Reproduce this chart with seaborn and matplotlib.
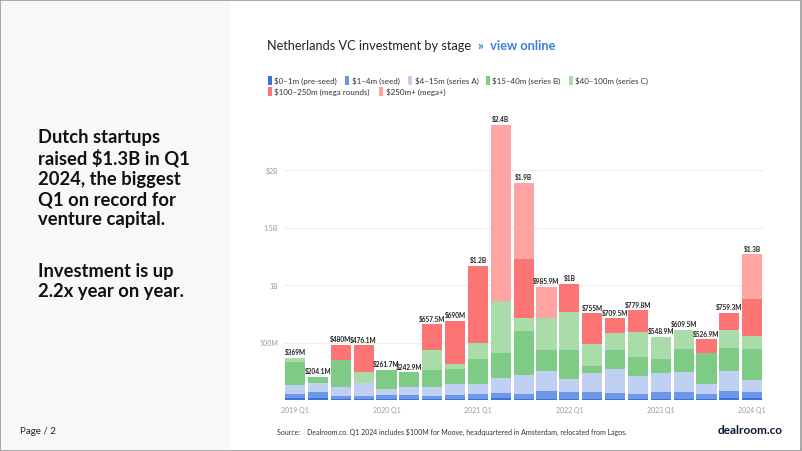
import matplotlib
matplotlib.use('Agg')
import matplotlib.pyplot as plt
from matplotlib.patches import Rectangle
import pandas as pd
import seaborn as sns

quarters = ['2019 Q1', '2019 Q2', '2019 Q3', '2019 Q4', '2020 Q1', '2020 Q2', '2020 Q3',
            '2020 Q4', '2021 Q1', '2021 Q2', '2021 Q3', '2021 Q4', '2022 Q1', '2022 Q2',
            '2022 Q3', '2022 Q4', '2023 Q1', '2023 Q2', '2023 Q3', '2023 Q4', '2024 Q1']

# $M per stage
pre_seed = [15, 14, 12, 10, 12, 12, 8, 10, 10, 15, 12, 10, 12, 10, 10, 10, 12, 12, 10, 15, 15]
seed = [40, 58, 26, 26, 35, 35, 26, 35, 44, 46, 40, 65, 60, 57, 48, 42, 60, 60, 42, 63, 57]
series_a = [72, 76, 72, 110, 49, 67, 78, 93, 81, 128, 168, 174, 110, 168, 212, 154, 165, 168, 87, 174, 101]
series_b = [203, 56, 235, 0, 165, 129, 145, 128, 223, 223, 383, 183, 252, 61, 165, 171, 119, 200, 272, 196, 270]
series_c = [38, 0, 0, 101, 0, 0, 177, 49, 136, 452, 107, 280, 333, 194, 145, 218, 193, 170, 0, 165, 116]
mega = [0, 0, 135, 229, 0, 0, 223, 375, 673, 0, 516, 0, 246, 265, 130, 185, 0, 0, 116, 146, 316]
mega_plus = [0, 0, 0, 0, 0, 0, 0, 0, 0, 1530, 661, 274, 0, 0, 0, 0, 0, 0, 0, 0, 391]

total_labels = ['$369M', '$204.1M', '$480M', '$476.1M', '$261.7M', '$242.9M', '$657.5M',
                '$690M', '$1.2B', '$2.4B', '$1.9B', '$985.9M', '$1B', '$755M', '$709.5M',
                '$779.8M', '$548.9M', '$609.5M', '$526.9M', '$759.3M', '$1.3B']

stage_names = ['$0–1m (pre-seed)', '$1–4m (seed)', '$4–15m (series A)', '$15–40m (series B)',
               '$40–100m (series C)', '$100–250m (mega rounds)', '$250m+ (mega+)']
stage_colors = ['#3d72dc', '#6d98ea', '#bfd0f3', '#7ecb86', '#a9dca9', '#fd7474', '#ffa3a3']

y_ticks = [500, 1000, 1500, 2000]
y_tick_labels = ['500M', '1B', '1.5B', '$2B']
x_tick_labels = ['2019 Q1', '2020 Q1', '2021 Q1', '2022 Q1', '2023 Q1', '2024 Q1']

sns.set_style('white')
plt.rcParams['font.family'] = ['Lato', 'DejaVu Sans']

df = pd.DataFrame({'quarter': quarters, 'pre_seed': pre_seed, 'seed': seed,
                   'series_a': series_a, 'series_b': series_b, 'series_c': series_c,
                   'mega': mega, 'mega_plus': mega_plus})
stage_cols = ['pre_seed', 'seed', 'series_a', 'series_b', 'series_c', 'mega', 'mega_plus']
cum = df[stage_cols].cumsum(axis=1)

fig = plt.figure(figsize=(8.02, 4.52), dpi=100)
fig.patches.append(Rectangle((0, 0), 230 / 802, 1, transform=fig.transFigure,
                             facecolor='#f7f8fa', edgecolor='none', zorder=0))
fig.patches.append(Rectangle((0.0006, 0.001), 0.9985, 0.997, transform=fig.transFigure,
                             fill=False, edgecolor='#9a9a9a', lw=1.2, zorder=5))

ax = fig.add_axes([283.6 / 802, 51 / 452, 480 / 802, 287.5 / 452])

# stacked bars: draw cumulative heights from the top stage down
for col, color in zip(stage_cols[::-1], stage_colors[::-1]):
    sns.barplot(x=df['quarter'], y=cum[col], order=quarters, color=color, saturation=1,
                width=0.88, linewidth=0, ax=ax, zorder=3)

totals = cum['mega_plus'].values
for i, (t, lab) in enumerate(zip(totals, total_labels)):
    ax.text(i, t + 22, lab, ha='center', va='bottom', fontsize=4.7, fontweight='bold',
            color='#222222')

ax.set_xlim(-0.5, len(quarters) - 0.5)
ax.set_ylim(0, 2500)
ax.set_yticks(y_ticks)
ax.set_yticklabels(y_tick_labels)
ax.set_xticks([quarters.index(q) for q in x_tick_labels])
ax.set_xticklabels(x_tick_labels)
ax.tick_params(axis='both', length=0, labelsize=5, colors='#9a9a9a', pad=4)
ax.grid(axis='y', color='#eeeeee', lw=0.8, zorder=0)
ax.set_xlabel('')
ax.set_ylabel('')
for s in ax.spines.values():
    s.set_visible(False)

# title
title = fig.text(267 / 802, 1 - 46 / 452, 'Netherlands VC investment by stage', fontsize=9.2,
                 color='#222222', va='center', ha='left')
ax.annotate('»  view online', xy=(1, 0.5), xycoords=title, xytext=(5, 0),
            textcoords='offset points', fontsize=9.2, fontweight='bold', color='#3b7de0',
            va='center', ha='left', annotation_clip=False)

# legend
legend_pos = [(267.5, 81.5), (345, 81.5), (408.5, 81.5), (486, 81.5), (568.5, 81.5),
              (267.5, 92.5), (379, 92.5)]
for (lx, ly), name, color in zip(legend_pos, stage_names, stage_colors):
    fig.patches.append(Rectangle((lx / 802, 1 - (ly + 4.5) / 452), 4 / 802, 9 / 452,
                                 transform=fig.transFigure, facecolor=color,
                                 edgecolor='none'))
    fig.text((lx + 6.5) / 802, 1 - ly / 452, name, fontsize=5.8, color='#333333',
             va='center', ha='left')

# left panel text
fig.text(38 / 802, 1 - 129 / 452,
         'Dutch startups\nraised $1.3B in Q1\n2024, the biggest\nQ1 on record for\nventure capital.',
         fontsize=13.2, fontweight='bold', color='#111111', va='top', ha='left',
         linespacing=1.22)
fig.text(38 / 802, 1 - 263 / 452, 'Investment is up\n2.2x year on year.',
         fontsize=13.2, fontweight='bold', color='#111111', va='top', ha='left',
         linespacing=1.22)

fig.text(20 / 802, 1 - 432 / 452, 'Page / 2', fontsize=7, color='#222222', va='center')
fig.text(277 / 802, 1 - 432 / 452,
         'Source:    Dealroom.co. Q1 2024 includes $100M for Moove, headquartered in Amsterdam, relocated from Lagos.',
         fontsize=5, color='#333333', va='center')
fig.text(783 / 802, 1 - 431 / 452, 'dealroom.co', fontsize=8.5, fontweight='bold',
         color='#0a1633', va='center', ha='right')

fig.savefig('out.png', dpi=100)
